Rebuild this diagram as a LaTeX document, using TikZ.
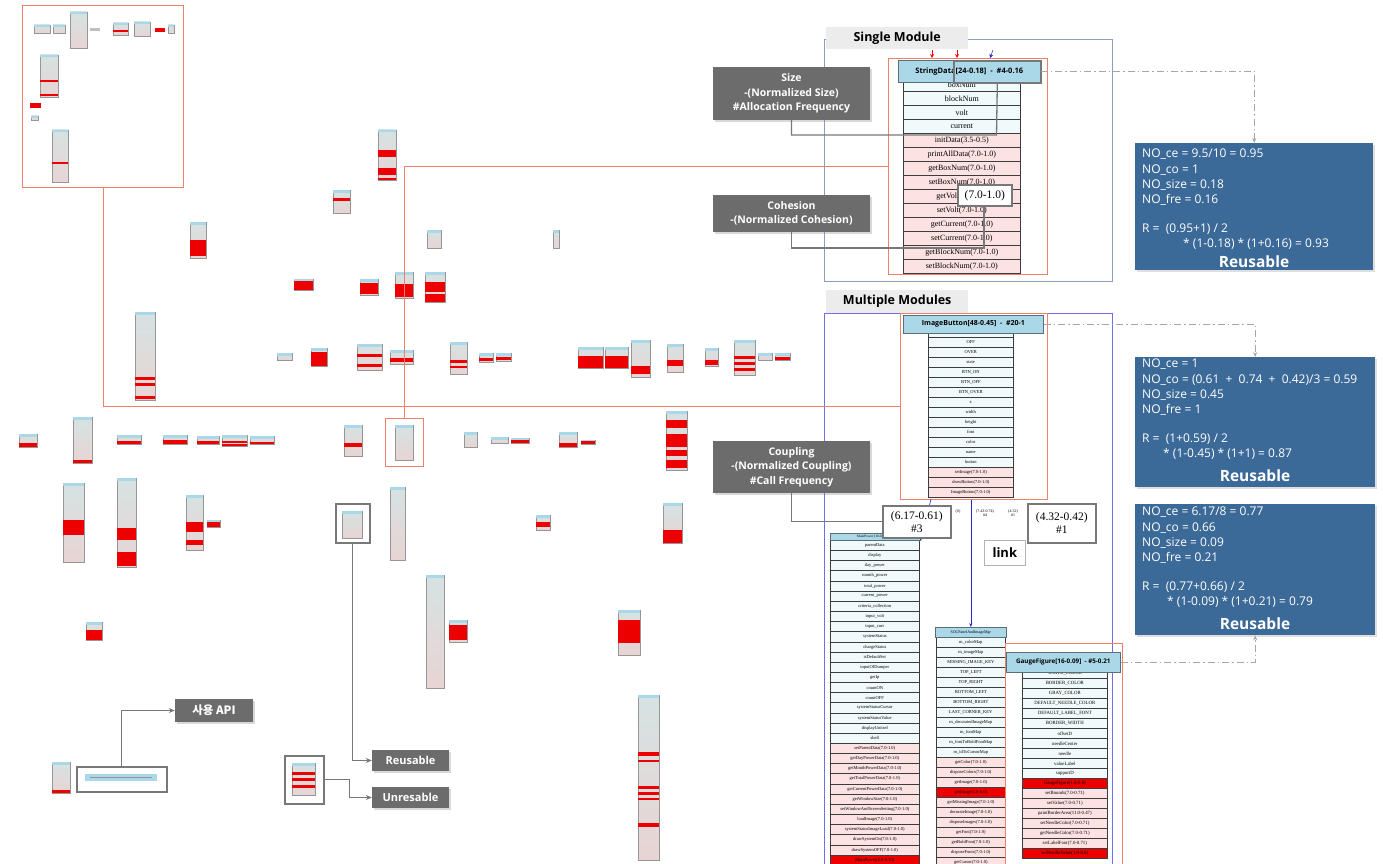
\documentclass[tikz,border=0pt]{standalone}
\usepackage{fontspec}
\setmainfont{Liberation Serif}
\newfontfamily\os{Open Sans}
\newfontfamily\ko{Noto Sans CJK KR}
\usetikzlibrary{arrows.meta,shadows}
\definecolor{salm}{RGB}{240,128,108}
\definecolor{callg}{RGB}{108,108,108}
\definecolor{leadg}{RGB}{120,120,120}
\definecolor{nboxc}{RGB}{60,106,152}
\definecolor{hdrc}{RGB}{170,216,232}
\definecolor{hdrb}{RGB}{90,110,120}
\definecolor{fld}{RGB}{240,250,250}
\definecolor{mth}{RGB}{252,226,226}
\definecolor{rrow}{RGB}{236,0,0}
\definecolor{rowl}{RGB}{60,60,60}
\definecolor{sgbc}{RGB}{140,158,190}
\definecolor{mbc}{RGB}{110,110,230}
\definecolor{tabc}{RGB}{236,236,236}
\definecolor{tmbtop}{RGB}{214,226,226}
\definecolor{tmbbot}{RGB}{232,212,212}
\definecolor{tmbl}{RGB}{150,150,150}
\definecolor{blarc}{RGB}{40,40,200}
\newcommand\tmb[4]{\shadedraw[top color=tmbtop,bottom color=tmbbot,draw=tmbl,line width=0.3pt] (#1,#2) rectangle (#3,#4);\fill[hdrc] (#1,#2) rectangle (#3,#2+2.5);}
\newcommand\rbar[4]{\fill[rrow] (#1,#2) rectangle (#3,#4);}
\tikzset{
 salmbox/.style={draw=salm, line width=0.9pt, inner sep=0, anchor=north west},
 salmline/.style={draw=salm, line width=0.9pt},
 callout/.style={fill=callg, text=white, font=\os\bfseries\fontsize{10.5}{14.5}\selectfont, align=center, inner sep=0, minimum width=157pt, drop shadow={opacity=0.3,shadow xshift=2pt,shadow yshift=-2pt}},
 lead/.style={draw=leadg, line width=1.3pt},
 leadarr/.style={draw=leadg, line width=1.3pt, -{Stealth[length=6pt,width=5pt]}},
 hbox/.style={draw=leadg, line width=1.6pt, fill=white, inner sep=0, anchor=north west},
 hdr/.style={fill=hdrc, draw=hdrb, line width=0.6pt, inner sep=0, anchor=north west},
 srow/.style={draw=rowl, line width=0.7pt, inner sep=0, anchor=north west},
 tab/.style={fill=tabc, inner sep=0, anchor=north west, font=\os\bfseries\fontsize{12.5}{12.5}\selectfont},
 nbox/.style={fill=nboxc, inner sep=0, anchor=north west, drop shadow={opacity=0.25,shadow xshift=1.5pt,shadow yshift=-1.5pt}},
 ntext/.style={anchor=north west, align=left, text=white, inner sep=0, font=\os\fontsize{12}{15.3}\selectfont},
 reusw/.style={text=white, inner sep=0, font=\os\bfseries\fontsize{15.5}{16}\selectfont},
 ddash/.style={draw=gray!70, line width=0.8pt, dash pattern=on 7pt off 3pt on 1.5pt off 3pt, -{Stealth[length=5pt,width=4pt]}},
 blarr/.style={draw=blarc, line width=0.6pt, -{Stealth[length=4pt,width=3pt]}},
 tinyl/.style={inner sep=0, align=center, font=\fontsize{4}{4.5}\selectfont},
 bigl/.style={align=center, font=\fontsize{11.5}{13}\selectfont},
}
\begin{document}
\begin{tikzpicture}[x=1pt,y=-1pt]
\useasboundingbox (0,0) rectangle (1383,864);
\fill[white] (0,0) rectangle (1383,864);
\clip (0,0) rectangle (1383,864);

% ---------------- overview thumbnails ----------------
\node[salmbox, minimum width=161pt, minimum height=182pt] (ov) at (22,5) {};
\tmb{34}{25}{50}{33}\tmb{53}{25}{65}{33}\tmb{70}{12}{87}{48}
\fill[tmbl!60] (90,28) rectangle (100,31);
\tmb{113}{23}{128}{35}\rbar{113}{30}{128}{32}
\tmb{134}{22}{150}{36}\rbar{155}{28}{165}{32}\tmb{168}{25}{174}{33}
\tmb{40}{55}{58}{97}\rbar{40}{80}{58}{82}\rbar{40}{94}{58}{96}
\rbar{30}{103}{41}{108}\tmb{31}{116}{38}{120}
\tmb{52}{130}{68}{182}\rbar{52}{162}{68}{164}

\tmb{378}{130}{396}{180}\rbar{378}{150}{396}{157}\rbar{378}{168}{396}{175}\rbar{378}{178}{396}{180}
\tmb{333}{190}{350}{213}\rbar{333}{198}{350}{201}
\tmb{190}{222}{206}{258}\rbar{190}{240}{206}{256}
\tmb{427}{230}{441}{248}\tmb{553}{230}{559}{248}
\tmb{294}{279}{313}{290}\rbar{294}{281}{313}{290}
\tmb{360}{279}{378}{295}\rbar{360}{283}{378}{294}
\tmb{395}{272}{413}{298}\rbar{395}{284}{413}{297}
\tmb{425}{272}{445}{302}\rbar{425}{282}{445}{292}\rbar{425}{294}{445}{302}
\tmb{135}{312}{155}{400}\rbar{135}{377}{155}{380}\rbar{135}{383}{155}{386}\rbar{135}{396}{155}{399}

\tmb{277}{353}{292}{360}
\tmb{311}{348}{327}{366}\rbar{311}{352}{327}{366}
\tmb{357}{344}{382}{370}\rbar{357}{354}{382}{357}\rbar{357}{364}{382}{367}
\tmb{390}{350}{413}{364}\rbar{390}{358}{413}{362}
\tmb{450}{342}{467}{374}\rbar{450}{360}{467}{363}\rbar{450}{366}{467}{368}
\tmb{479}{353}{493}{362}\rbar{479}{358}{493}{361}
\tmb{496}{353}{511}{361}\rbar{496}{357}{511}{360}
\tmb{578}{347}{603}{368}\rbar{578}{356}{603}{368}
\tmb{605}{347}{628}{368}\rbar{605}{356}{628}{368}
\tmb{631}{340}{650}{377}\rbar{631}{366}{650}{374}
\tmb{667}{344}{683}{372}\rbar{667}{360}{683}{366}
\tmb{705}{348}{718}{366}\rbar{705}{360}{718}{365}
\tmb{734}{340}{755}{375}\rbar{734}{356}{755}{359}\rbar{734}{362}{755}{365}\rbar{734}{368}{755}{371}
\tmb{758}{353}{772}{360}
\tmb{775}{353}{790}{360}\rbar{775}{357}{790}{360}

\tmb{19}{434}{37}{447}\rbar{19}{443}{37}{447}
\tmb{73}{417}{92}{463}\rbar{73}{460}{92}{463}
\tmb{117}{435}{141}{444}\rbar{117}{441}{141}{444}
\tmb{163}{435}{187}{444}\rbar{163}{440}{187}{444}
\tmb{197}{436}{219}{444}\rbar{197}{441}{219}{444}
\tmb{222}{435}{247}{446}\rbar{222}{441}{247}{443}\rbar{222}{444}{247}{446}
\tmb{250}{436}{274}{444}\rbar{250}{442}{274}{444}
\tmb{344}{425}{362}{456}\rbar{344}{443}{362}{447}
\node[salmbox, minimum width=38pt, minimum height=48pt] (smbox) at (385,418) {};
\tmb{395}{425}{413}{460}
\tmb{464}{432}{477}{447}\tmb{491}{437}{508}{443}
\tmb{511}{438}{529}{443}\rbar{511}{440}{529}{443}
\tmb{559}{432}{577}{447}\rbar{559}{443}{577}{447}
\tmb{581}{440}{595}{444}\rbar{581}{441}{595}{444}
\tmb{666}{411}{687}{470}\rbar{666}{420}{687}{428}\rbar{666}{434}{687}{447}\rbar{666}{450}{687}{456}\rbar{666}{460}{687}{468}

\tmb{63}{483}{84}{562}\rbar{63}{520}{84}{535}
\tmb{117}{478}{136}{567}\rbar{117}{528}{136}{540}\rbar{117}{552}{136}{566}
\tmb{186}{495}{203}{550}\rbar{186}{522}{203}{532}\rbar{186}{540}{203}{545}
\tmb{207}{520}{220}{527}\rbar{207}{522}{220}{527}
\node[hbox, minimum width=34pt, minimum height=39pt] (lgbox) at (335,503) {};
\tmb{342}{511}{362}{538}
\tmb{390}{487}{405}{560}
\tmb{536}{515}{550}{530}\rbar{536}{522}{550}{527}
\tmb{663}{503}{682}{543}\rbar{663}{530}{682}{543}

\tmb{86}{622}{102}{640}\rbar{86}{630}{102}{640}
\tmb{426}{575}{444}{688}
\tmb{449}{620}{467}{642}\rbar{449}{625}{467}{640}
\tmb{618}{610}{640}{655}\rbar{618}{620}{640}{643}
\tmb{638}{695}{659}{860}\rbar{638}{752}{659}{756}\rbar{638}{760}{659}{762}\rbar{638}{786}{659}{789}\rbar{638}{792}{659}{795}\rbar{638}{798}{659}{800}\rbar{638}{823}{659}{827}

% ---------------- legend ----------------
\tmb{52}{762}{70}{793}\rbar{52}{790}{70}{793}
\node[hbox, minimum width=90pt, minimum height=25pt] (apibox) at (76,766) {};
\fill[hdrc] (85,774) rectangle (157,781);
\draw[tmbl, line width=0.4pt] (90,777.5) -- (152,777.5);
\node[hbox, minimum width=39pt, minimum height=48pt] (unbox) at (284,755) {};
\tmb{292}{763}{315}{795}\rbar{292}{772}{315}{775}\rbar{292}{778}{315}{781}\rbar{292}{785}{315}{788}
\node[callout, minimum width=78pt, minimum height=23pt, font=\ko\bfseries\fontsize{11.5}{12}\selectfont] (api) at (214,710.5) {사용 API};
\node[callout, minimum width=77pt, minimum height=21pt, font=\os\bfseries\fontsize{11}{12}\selectfont] (reus) at (410.5,760.5) {Reusable};
\node[callout, minimum width=77pt, minimum height=21pt, font=\os\bfseries\fontsize{11}{12}\selectfont] (unres) at (410.5,797.5) {Unresable};
\draw[leadarr] (apibox.north) |- (api.west);
\draw[leadarr] (lgbox.south) |- (reus.west);
\draw[leadarr] (unbox.east) -- ++(25,0) |- (unres.west);

% ---------------- single module ----------------
\node[draw=sgbc, line width=0.8pt, inner sep=0, anchor=north west, minimum width=288pt, minimum height=242pt] (sgbox) at (824,39) {};
\node[tab, minimum width=142pt, minimum height=22pt] (tab1) at (826,27) {Single Module};
\node[salmbox, minimum width=159pt, minimum height=216pt] (sdbox) at (888,58) {};
\foreach \t [count=\i from 0] in {boxNum,blockNum,volt,current}
  \node[srow, fill=fld, minimum width=117pt, minimum height=14pt, font=\fontsize{8}{8}\selectfont] (sf\i) at (903,77+\i*14) {\t};
\foreach \t [count=\i from 0] in {initData(3.5-0.5),printAllData(7.0-1.0),getBoxNum(7.0-1.0),setBoxNum(7.0-1.0),getVolt(7.0-1.0),setVolt(7.0-1.0),getCurrent(7.0-1.0),setCurrent(7.0-1.0),getBlockNum(7.0-1.0),setBlockNum(7.0-1.0)}
  \node[srow, fill=mth, minimum width=117pt, minimum height=14pt, font=\fontsize{8}{8}\selectfont] (sm\i) at (903,133+\i*14) {\t};
\node[hdr, minimum width=142pt, minimum height=22pt, font=\os\bfseries\fontsize{7.5}{8}\selectfont] (sdhead) at (898,60) {StringData[24-0.18] \ - \ \#4-0.16};
\node[hbox, fill=none, minimum width=87pt, minimum height=22pt] (sdhl) at (953,60) {};
\node[hbox, minimum width=54pt, minimum height=21pt, font=\fontsize{11.5}{12}\selectfont] (c70) at (957,184) {(7.0-1.0)};
\coordinate (ta1) at (932,50); \coordinate (tb1) at (932,58);
\coordinate (ta2) at (957,50); \coordinate (tb2) at (957,58);
\coordinate (ta3) at (993,50); \coordinate (tb3) at (990,58);
\draw[draw=red, line width=0.5pt, -{Stealth[length=4pt,width=4pt]}] (ta1) -- (tb1);
\draw[draw=red, line width=0.5pt, -{Stealth[length=4pt,width=4pt]}] (ta2) -- (tb2);
\draw[draw=blarc, line width=0.5pt, -{Stealth[length=4pt,width=4pt]}] (ta3) -- (tb3);

% ---------------- multiple modules ----------------
\node[draw=mbc, line width=0.8pt, inner sep=0, anchor=north west, minimum width=288pt, minimum height=580pt] (mbox) at (824,313) {};
\node[tab, minimum width=142pt, minimum height=23pt] (tab2) at (826,290) {Multiple Modules};
\node[salmbox, minimum width=147pt, minimum height=186pt] (ibbox) at (900,313) {};
\foreach \t [count=\i from 0] in {ON,OFF,OVER,state,BTN\_ON,BTN\_OFF,BTN\_OVER,x,width,height,font,color,name,button}
  \node[srow, fill=fld, minimum width=85pt, minimum height=10pt, font=\fontsize{4.5}{5}\selectfont] (if\i) at (928,327+\i*10) {\t};
\foreach \t [count=\i from 0] in {setImage(7.0-1.0),drawButton(7.0-1.0),ImageButton(7.0-1.0)}
  \node[srow, fill=mth, minimum width=85pt, minimum height=10pt, font=\fontsize{4.5}{5}\selectfont] (im\i) at (928,467+\i*10) {\t};
\node[hdr, minimum width=140pt, minimum height=18pt, font=\os\bfseries\fontsize{7}{8}\selectfont] (ibhead) at (903,315) {ImageButton[48-0.45] \ - \ \#20-1};

% MainPower
\foreach \t [count=\i from 0] in {parentData,display,day\_power,month\_power,total\_power,current\_power,criteria\_collection,input\_volt,input\_curr,systemStatus,chargeStatus,isDefaultSet,inputOfDumper,getIp,countON,countOFF,systemStatusCursor,systemStatusValue,displayUnitsel,shell}
  \node[srow, fill=fld, minimum width=89pt, minimum height=10.15pt, font=\fontsize{4.5}{5}\selectfont] (mf\i) at (830,540+\i*10.15) {\t};
\foreach \t [count=\i from 0] in {setParentData(7.0-1.0),getDayPowerData(7.0-1.0),getMonthPowerData(7.0-1.0),getTotalPowerData(7.0-1.0),getCurrentPowerData(7.0-1.0),getWindowSize(7.0-1.0),setWindowAndScreenSetting(7.0-1.0),loadImage(7.0-1.0),systemStatusImageLoad(7.0-1.0),drawSystemOn(7.0-1.0),drawSystemOFF(7.0-1.0)}
  \node[srow, fill=mth, minimum width=89pt, minimum height=10.15pt, font=\fontsize{4.5}{5}\selectfont] (mm\i) at (830,743+\i*10.15) {\t};
\node[srow, fill=rrow, minimum width=89pt, minimum height=10.15pt, font=\fontsize{4.5}{5}\selectfont] (mred) at (830,854.6) {MainPower(2.0-0.33)};
\node[hdr, minimum width=90pt, minimum height=7pt, font=\fontsize{3.5}{4}\selectfont] (mphead) at (830,533) {MainPower [10-0.09] - \#3};

% SOC panel
\foreach \t [count=\i from 0] in {m\_colorMap,m\_imageMap,MISSING\_IMAGE\_KEY,TOP\_LEFT,TOP\_RIGHT,BOTTOM\_LEFT,BOTTOM\_RIGHT,LAST\_CORNER\_KEY,m\_decoratedImageMap,m\_fontMap,m\_fontToBoldFontMap,m\_idToCursorMap}
  \node[srow, fill=fld, minimum width=69pt, minimum height=10pt, font=\fontsize{4.5}{5}\selectfont] (pf\i) at (936,637+\i*10) {\t};
\foreach \t [count=\i from 0] in {getColor(7.0-1.0),disposeColors(7.0-1.0),getImage(7.0-1.0)}
  \node[srow, fill=mth, minimum width=69pt, minimum height=10pt, font=\fontsize{4.5}{5}\selectfont] (pm\i) at (936,757+\i*10) {\t};
\node[srow, fill=rrow, minimum width=69pt, minimum height=10pt, font=\fontsize{4.5}{5}\selectfont] (pred) at (936,787) {getImage(1.0-0.0)};
\foreach \t [count=\i from 0] in {getMissingImage(7.0-1.0),decorateImage(7.0-1.0),disposeImages(7.0-1.0),getFont(7.0-1.0),getBoldFont(7.0-1.0),disposeFonts(7.0-1.0),getCursor(7.0-1.0)}
  \node[srow, fill=mth, minimum width=69pt, minimum height=10pt, font=\fontsize{4.5}{5}\selectfont] (pn\i) at (936,797+\i*10) {\t};
\node[hdr, minimum width=71pt, minimum height=10pt, font=\fontsize{4}{4.5}\selectfont] (sochead) at (935,627) {SOCPanelAndImageMgr};

% GaugeFigure
\node[salmbox, minimum width=117pt, minimum height=240pt] (gfbox) at (1005,643) {};
\foreach \t [count=\i from 0] in {WHITE\_COLOR,BORDER\_COLOR,GRAY\_COLOR,DEFAULT\_NEEDLE\_COLOR,DEFAULT\_LABEL\_FONT,BORDER\_WIDTH,offsetD,needleCenter,needle,valueLabel,supportD}
  \node[srow, fill=fld, minimum width=85pt, minimum height=10pt, font=\fontsize{4.8}{5}\selectfont] (gf\i) at (1022,668+\i*10) {\t};
\node[srow, fill=rrow, minimum width=85pt, minimum height=10pt, font=\fontsize{4.8}{5}\selectfont] (gred1) at (1022,778) {GaugeFigure(1.0-0.0)};
\foreach \t [count=\i from 0] in {setBounds(7.0-0.71),setValue(7.0-0.71),paintBorderArea(11.0-0.47),setNeedleColor(7.0-0.71),getNeedleColor(7.0-0.71),setLabelFont(7.0-0.71)}
  \node[srow, fill=mth, minimum width=85pt, minimum height=10pt, font=\fontsize{4.8}{5}\selectfont] (gm\i) at (1022,788+\i*10) {\t};
\node[srow, fill=rrow, minimum width=85pt, minimum height=10pt, font=\fontsize{4.8}{5}\selectfont] (gred2) at (1022,848) {setNeedleValue(1.0-0.0)};
\node[hdr, minimum width=114pt, minimum height=20pt, font=\os\bfseries\fontsize{6.3}{7}\selectfont] (gfhead) at (1006,652) {GaugeFigure[16-0.09] \ - \#5-0.21};

% blue links
\draw[blarr] (ibbox.south -| sochead.north) -- (sochead.north);
\coordinate (ibo2) at (931,499);
\draw[blarr] (ibo2) -- (mphead.south east);

% labels under ImageButton
\node[tinyl] (l6) at (958,512) {(6)};
\node[tinyl] (l743) at (985,513) {(7.43-0.74)\\\#4};
\node[tinyl] (l432) at (1013,513) {(4.32)\\\#1};
\node[hbox, minimum width=68pt, minimum height=32pt, bigl] (c617) at (882,505) {(6.17-0.61)\\\#3};
\node[hbox, minimum width=68pt, minimum height=39pt, bigl] (c432) at (1027,503) {(4.32-0.42)\\\#1};
\node[draw=gray!60, line width=0.6pt, fill=white, inner sep=0, anchor=north west, minimum width=41pt, minimum height=25pt, font=\os\bfseries\fontsize{13}{14}\selectfont] (link) at (984,540) {link};

% ---------------- callouts ----------------
\node[callout, minimum height=53pt] (size) at (791.5,93.5) {Size\\-(Normalized Size)\\\#Allocation Frequency};
\node[callout, minimum height=37pt] (coh) at (791.5,213.5) {Cohesion\\-(Normalized Cohesion)};
\node[callout, minimum height=52pt] (coup) at (791.5,467) {Coupling\\-(Normalized Coupling)\\\#Call Frequency};
\coordinate (szk) at (996.5,135);
\draw[lead] (size.south) |- (szk) -- (sdhl.south);
\coordinate (chk) at (984,248);
\draw[lead] (coh.south) |- (chk) -- (chk |- c70.south);
\draw[lead] (coup.south) |- (c617.west);

% ---------------- red links ----------------
\draw[salmline] (ov.south) |- (ibbox.west);
\draw[salmline] (smbox.north) |- (sdbox.west);

% ---------------- result boxes ----------------
\node[nbox, minimum width=238pt, minimum height=127pt] (nb1) at (1135,143) {};
\node[ntext] (nb1t) at (1142,149) {NO\_ce = 9.5/10 = 0.95\\NO\_co = 1\\NO\_size = 0.18\\NO\_fre = 0.16\\[13pt]R = \ (0.95+1) / 2\\\hspace*{41pt}* (1-0.18) * (1+0.16) = 0.93};
\node[reusw] (nb1r) at (1254,262) {Reusable};
\node[nbox, minimum width=240pt, minimum height=130pt] (nb2) at (1135,357) {};
\node[ntext] (nb2t) at (1142,359) {NO\_ce = 1\\NO\_co = (0.61 \ + \ 0.74 \ + \ 0.42)/3 = 0.59\\NO\_size = 0.45\\NO\_fre = 1\\[13pt]R = \ (1+0.59) / 2\\\hspace*{21pt}* (1-0.45) * (1+1) = 0.87};
\node[reusw] (nb2r) at (1255,476) {Reusable};
\node[nbox, minimum width=240pt, minimum height=131pt] (nb3) at (1135,504) {};
\node[ntext] (nb3t) at (1142,507) {NO\_ce = 6.17/8 = 0.77\\NO\_co = 0.66\\NO\_size = 0.09\\NO\_fre = 0.21\\[13pt]R = \ (0.77+0.66) / 2\\\hspace*{25pt}* (1-0.09) * (1+0.21) = 0.79};
\node[reusw] (nb3r) at (1255,624) {Reusable};

\draw[ddash] (sdhead.east) -| (nb1.north);
\draw[ddash] (ibhead.east) -| (nb2.north);
\draw[ddash] (gfhead.east) -| (nb3.south);
\end{tikzpicture}
\end{document}
